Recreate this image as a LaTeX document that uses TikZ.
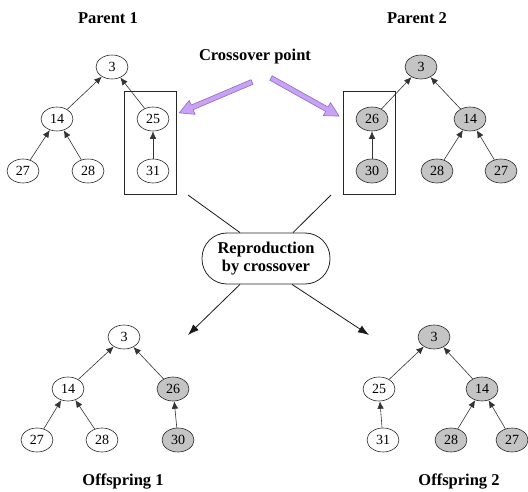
\documentclass[tikz,border=0pt]{standalone}
\usepackage{fontspec}
\setmainfont{Liberation Serif}
\usetikzlibrary{arrows.meta,shapes.geometric}
\definecolor{nodegray}{HTML}{C4C4C4}
\definecolor{purplefill}{HTML}{C9A2F8}
\definecolor{purpleline}{HTML}{8E6CC0}
\tikzset{
  tn/.style={ellipse, draw=black!85, line width=0.6pt, minimum width=32pt, minimum height=24pt, inner sep=0pt, font=\fontsize{14}{16}\selectfont},
  wn/.style={tn, fill=white},
  gn/.style={tn, fill=nodegray},
  tedge/.style={draw=black!80, line width=0.6pt, -{Latex[length=7.5pt,width=6.5pt]}},
  title/.style={font=\fontsize{16.5}{19}\selectfont\bfseries},
  xbox/.style={draw=black!85, line width=0.7pt, minimum width=52pt, minimum height=103pt, inner sep=0pt},
  repro/.style={draw=black!85, line width=0.8pt, rounded corners=25pt, minimum width=128pt, minimum height=51pt, align=center, font=\fontsize{16.5}{18.5}\selectfont\bfseries},
  link/.style={draw=black!90, line width=0.8pt},
  linkarrow/.style={link, -{Latex[length=11pt,width=8pt]}},
  fatarrow/.style={fill=purplefill, draw=purpleline, line width=0.6pt}
}
\begin{document}
\begin{tikzpicture}[x=1pt,y=-1pt]
\useasboundingbox (0,0) rectangle (528,492);
% titles
\node[title] (t1) at (108,18) {Parent 1};
\node[title] (t2) at (417,18) {Parent 2};
\node[title] (tc) at (255,57) {Crossover point};
\node[title] (o1t) at (123,482) {Offspring 1};
\node[title] (o2t) at (459,482) {Offspring 2};
% Parent 1
\node[wn] (a3) at (112,67) {3};
\node[wn] (a14) at (57,119) {14};
\node[wn] (a25) at (153,119) {25};
\node[wn] (a27) at (23,171) {27};
\node[wn] (a28) at (88,171) {28};
\node[wn] (a31) at (153,171) {31};
\draw[tedge] (a14) -- (a3);
\draw[tedge] (a25) -- (a3);
\draw[tedge] (a27) -- (a14);
\draw[tedge] (a28) -- (a14);
\draw[tedge] (a31) -- (a25);
\node[xbox] (boxa) at (150,142.5) {};
% Parent 2
\node[gn] (b3) at (421,67) {3};
\node[gn] (b26) at (372,119) {26};
\node[gn] (b14) at (470,119) {14};
\node[gn] (b30) at (372,171) {30};
\node[gn] (b28) at (437,171) {28};
\node[gn] (b27) at (501,171) {27};
\draw[tedge] (b26) -- (b3);
\draw[tedge] (b14) -- (b3);
\draw[tedge] (b30) -- (b26);
\draw[tedge] (b28) -- (b14);
\draw[tedge] (b27) -- (b14);
\node[xbox] (boxb) at (369,142.5) {};
% purple arrows
\begin{scope}[shift={(252,82)}, rotate=203]
\coordinate (pa) at (0,0);
\path[fatarrow] (0,2.5) -- (65,2.5) -- (65,7.5) -- (79,0) -- (65,-7.5) -- (65,-2.5) -- (0,-2.5) -- cycle;
\end{scope}
\begin{scope}[shift={(271,78)}, rotate=-29.2]
\coordinate (pb) at (0,0);
\path[fatarrow] (0,2.5) -- (64,2.5) -- (64,7.5) -- (78,0) -- (64,-7.5) -- (64,-2.5) -- (0,-2.5) -- cycle;
\end{scope}
% reproduction
\node[repro] (rep) at (266,258.5) {Reproduction\\by crossover};
\coordinate (ca) at (188,195);
\coordinate (cb) at (331,195);
\coordinate (ea) at (188,335);
\coordinate (eb) at (369,335);
\draw[link] (ca) -- (rep.north west -| 240,0);
\draw[link] (cb) -- (rep.north east -| 293,0);
\draw[linkarrow] (rep.south west -| 240,0) -- (ea);
\draw[linkarrow] (rep.south east -| 292,0) -- (eb);
% Offspring 1
\node[wn] (c3) at (124,337) {3};
\node[wn] (c14) at (68,389) {14};
\node[gn] (c26) at (173,389) {26};
\node[wn] (c27) at (37,440) {27};
\node[wn] (c28) at (102,440) {28};
\node[gn] (c30) at (178,440) {30};
\draw[tedge] (c14) -- (c3);
\draw[tedge] (c26) -- (c3);
\draw[tedge] (c27) -- (c14);
\draw[tedge] (c28) -- (c14);
\draw[tedge] (c30) -- (c26);
% Offspring 2
\node[gn] (d3) at (434,337) {3};
\node[wn] (d25) at (379,389) {25};
\node[gn] (d14) at (482,389) {14};
\node[wn] (d31) at (383,440) {31};
\node[gn] (d28) at (451,440) {28};
\node[gn] (d27) at (512,440) {27};
\draw[tedge] (d25) -- (d3);
\draw[tedge] (d14) -- (d3);
\draw[tedge] (d31) -- (d25);
\draw[tedge] (d28) -- (d14);
\draw[tedge] (d27) -- (d14);
\end{tikzpicture}
\end{document}
